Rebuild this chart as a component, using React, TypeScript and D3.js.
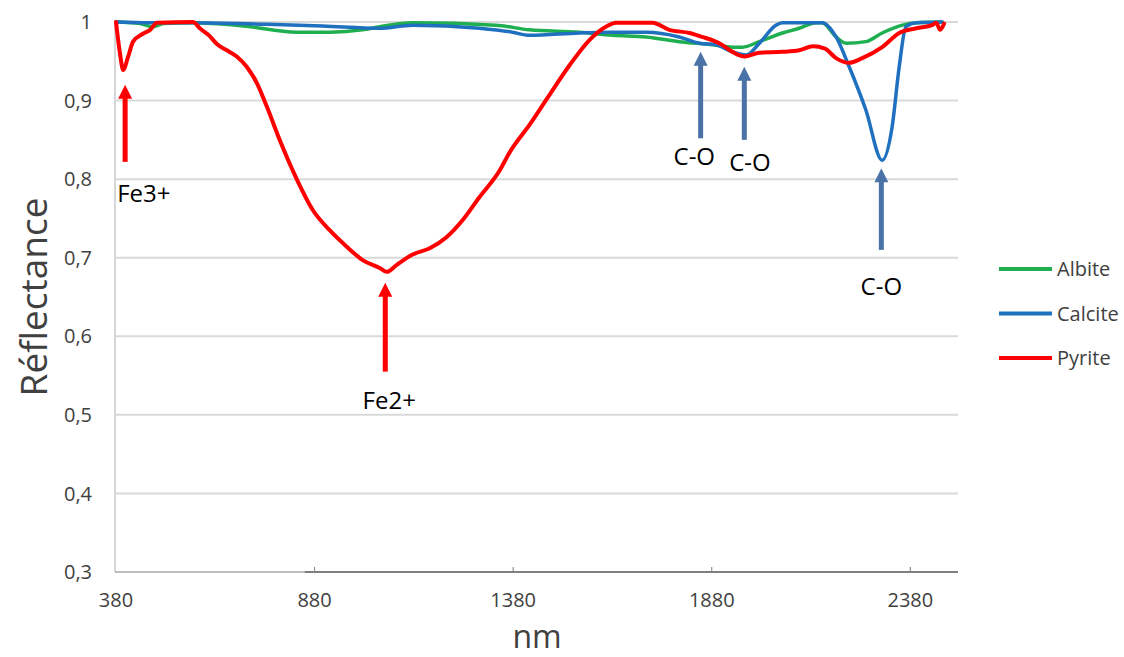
import React from "react";
import * as d3 from "d3";

const W = 1124;
const H = 657;

const xTicks = [380, 880, 1380, 1880, 2380];
const yTicks = [0.3, 0.4, 0.5, 0.6, 0.7, 0.8, 0.9, 1];
const seriesNames = ["Albite", "Calcite", "Pyrite"];
const seriesColors = ["#1fae50", "#1f70bf", "#ff0000"];

const albite: [number, number][] = [
  [380, 1.0], [440, 0.998], [473, 0.994], [500, 0.998], [574, 0.999], [700, 0.995],
  [835, 0.987], [920, 0.987], [1000, 0.99], [1044, 0.994], [1127, 0.999], [1336, 0.996],
  [1421, 0.99], [1547, 0.987], [1630, 0.983], [1715, 0.981], [1798, 0.975], [1883, 0.971],
  [1932, 0.968], [1957, 0.968], [2000, 0.975], [2058, 0.986], [2100, 0.992], [2143, 0.999],
  [2158, 0.999], [2193, 0.981], [2218, 0.973], [2268, 0.975], [2309, 0.986], [2360, 0.996],
  [2395, 0.999], [2460, 1.0],
];

const calcite: [number, number][] = [
  [380, 1.0], [466, 0.999], [574, 0.999], [760, 0.997], [900, 0.995], [1044, 0.992],
  [1127, 0.996], [1295, 0.992], [1378, 0.987], [1421, 0.983], [1547, 0.986], [1630, 0.987],
  [1715, 0.987], [1798, 0.981], [1849, 0.973], [1891, 0.971], [1932, 0.962], [1967, 0.958],
  [2000, 0.973], [2042, 0.996], [2058, 0.999], [2158, 0.999], [2193, 0.981], [2226, 0.943],
  [2268, 0.888], [2309, 0.824], [2334, 0.866], [2352, 0.943], [2369, 0.994], [2395, 0.999],
  [2460, 1.0],
];

const pyrite: [number, number][] = [
  [380, 1.0], [390, 0.96], [398, 0.939], [410, 0.955], [423, 0.975], [448, 0.985],
  [466, 0.99], [483, 0.999], [574, 1.0], [591, 0.992], [616, 0.982], [634, 0.972],
  [659, 0.964], [684, 0.956], [709, 0.943], [735, 0.922], [760, 0.892], [792, 0.85],
  [835, 0.8], [875, 0.761], [918, 0.735], [961, 0.714], [1001, 0.697], [1044, 0.687],
  [1062, 0.682], [1087, 0.691], [1127, 0.704], [1170, 0.712], [1212, 0.726], [1253, 0.748],
  [1295, 0.777], [1346, 0.811], [1371, 0.834], [1421, 0.869], [1471, 0.907], [1522, 0.945],
  [1572, 0.977], [1610, 0.993], [1640, 0.999], [1731, 0.999], [1773, 0.99], [1824, 0.986],
  [1856, 0.981], [1899, 0.973], [1932, 0.962], [1962, 0.956], [2000, 0.961], [2058, 0.962],
  [2100, 0.964], [2135, 0.969], [2165, 0.966], [2193, 0.954], [2226, 0.948], [2259, 0.954],
  [2309, 0.968], [2352, 0.986], [2395, 0.992], [2435, 0.996], [2445, 0.999], [2455, 0.99],
  [2465, 0.998],
];

const seriesData = [albite, calcite, pyrite];

// annotations: label, x (nm), arrow tip value, arrow base value, label position, colour key
const annLabels = ["Fe3+", "Fe2+", "C-O", "C-O", "C-O"];
const annX = [403, 1058, 1852, 1962, 2307];
const annTip = [0.92, 0.668, 0.962, 0.943, 0.814];
const annBase = [0.822, 0.555, 0.852, 0.85, 0.71];
const annLabelX = [450, 1068, 1836, 1976, 2307];
const annLabelY = [0.771, 0.507, 0.818, 0.81, 0.652];
const annRed = [true, true, false, false, false];

export default function App() {
  const left = 116;
  const right = 958;
  const top = 22;
  const bottom = 572;
  const x = d3.scaleLinear().domain([380, 2500]).range([left, right]);
  const y = d3.scaleLinear().domain([0.3, 1]).range([bottom, top]);
  const line = d3
    .line<[number, number]>()
    .x((d) => x(d[0]))
    .y((d) => y(d[1]))
    .curve(d3.curveMonotoneX);

  const font = "'Open Sans', 'Liberation Sans', sans-serif";

  return (
    <svg
      width={W}
      height={H}
      style={{ position: "absolute", left: 0, top: 0, background: "#fff" }}
      fontFamily={font}
    >
      {/* gridlines */}
      {yTicks
        .filter((t) => t > 0.3)
        .map((t) => (
          <line key={t} x1={left} x2={right} y1={y(t)} y2={y(t)} stroke="#d9d9d9" strokeWidth={2} />
        ))}
      {/* axes */}
      <line x1={left - 1} x2={left - 1} y1={top} y2={bottom} stroke="#c8c8c8" strokeWidth={1.5} />
      <line x1={left - 1} x2={x(880) - 10} y1={bottom} y2={bottom} stroke="#bdbdbd" strokeWidth={2} />
      <line x1={x(880) - 10} x2={right} y1={bottom} y2={bottom} stroke="#7f7f7f" strokeWidth={2} />
      {xTicks
        .filter((t) => t > 380)
        .map((t) => (
          <line key={t} x1={x(t)} x2={x(t)} y1={bottom} y2={bottom - 5} stroke="#7f7f7f" strokeWidth={1} />
        ))}
      {/* tick labels */}
      {yTicks.map((t) => (
        <text key={t} x={92} y={y(t)} dy="0.36em" textAnchor="end" fontSize={20} fill="#404040">
          {t === 1 ? "1" : d3.format(".1f")(t).replace(".", ",")}
        </text>
      ))}
      {xTicks.map((t) => (
        <text key={t} x={x(t)} y={607} textAnchor="middle" fontSize={20} fill="#404040">
          {t}
        </text>
      ))}
      {/* axis titles */}
      <text
        transform={`translate(47, ${(top + bottom) / 2}) rotate(-90)`}
        textAnchor="middle"
        fontSize={37}
        fill="#404040"
      >
        Réflectance
      </text>
      <text x={537} y={647.5} textAnchor="middle" fontSize={32} fill="#404040">
        nm
      </text>
      {/* series */}
      {seriesData.map((s, i) => (
        <path
          key={seriesNames[i]}
          d={line(s) || ""}
          fill="none"
          stroke={seriesColors[i]}
          strokeWidth={i === 2 ? 4 : 3.5}
          strokeLinejoin="round"
          strokeLinecap="round"
        />
      ))}
      {/* annotations */}
      {annLabels.map((lab, i) => {
        const ax = x(annX[i]);
        const tipY = y(annTip[i]);
        const baseY = y(annBase[i]);
        const col = annRed[i] ? "#ff0000" : "#4a72a6";
        const headH = 14;
        const headW = 7;
        return (
          <g key={i}>
            <line x1={ax} x2={ax} y1={baseY} y2={tipY + headH - 1} stroke={col} strokeWidth={5} />
            <polygon
              points={`${ax},${tipY} ${ax - headW},${tipY + headH} ${ax + headW},${tipY + headH}`}
              fill={col}
            />
            <text
              x={x(annLabelX[i])}
              y={y(annLabelY[i])}
              textAnchor="middle"
              fontSize={24}
              fill="#000"
            >
              {lab}
            </text>
          </g>
        );
      })}
      {/* legend */}
      {seriesNames.map((n, i) => {
        const ly = 269 + i * 44.5;
        return (
          <g key={n}>
            <line x1={999} x2={1052} y1={ly} y2={ly} stroke={seriesColors[i]} strokeWidth={4} />
            <text x={1057} y={ly} dy="0.36em" fontSize={20} fill="#404040">
              {n}
            </text>
          </g>
        );
      })}
    </svg>
  );
}
